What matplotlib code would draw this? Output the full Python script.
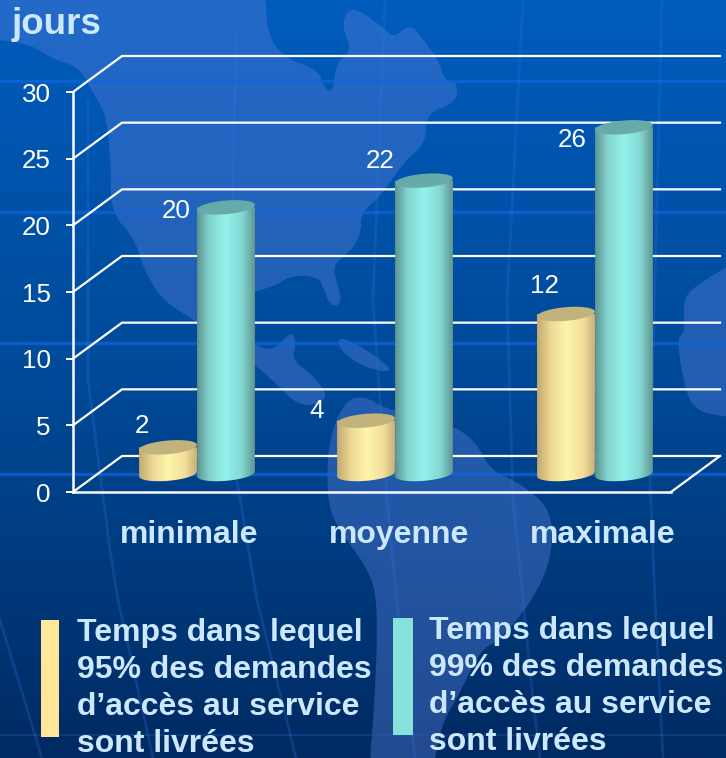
"""Delivery times (jours) as a 3D-looking cylinder chart on a dark blue map background."""
import matplotlib
matplotlib.use("Agg")
import matplotlib.pyplot as plt
import numpy as np
from matplotlib.colors import LinearSegmentedColormap
from matplotlib.patches import Polygon, Rectangle

plt.rcParams["font.family"] = ["Liberation Sans", "DejaVu Sans"]

# --- data ---
CATEGORIES = ["minimale", "moyenne", "maximale"]
DAYS_95 = [2, 4, 12]
DAYS_99 = [20, 22, 26]
Y_TICKS = [0, 5, 10, 15, 20, 25, 30]
LEGEND_95 = "Temps dans lequel\n95% des demandes\nd’accès au service\nsont livrées"
LEGEND_99 = "Temps dans lequel\n99% des demandes\nd’accès au service\nsont livrées"

# --- layout, all in reference pixels ---
W, H = 726, 758
Y0_PX, PX_PER_DAY = 492, 400 / 30
WALL_DX, WALL_DY = 49, 36
AXIS_X, FLOOR_RIGHT = 73, 671
GROUP_X = [197, 395, 595]
CAT_X = [189, 399, 603]
CYL_HALF = 29
CYL_BASE_PX = 474
ELL_B, TILT = 6.8, np.radians(5)
LABEL_XY_95 = [(142, 426), (317, 411), (544, 286)]
LABEL_XY_99 = [(176, 211), (380, 161), (572, 140)]

WHITE = "#ffffff"
TEXT = "#cce8ff"
YELLOW_CMAP = LinearSegmentedColormap.from_list(
    "y", [(0, "#c2a96f"), (0.22, "#ead692"), (0.5, "#fff6aa"), (0.8, "#f4de9a"), (1, "#c8b078")])
TEAL_CMAP = LinearSegmentedColormap.from_list(
    "t", [(0, "#5c9490"), (0.22, "#84d6d0"), (0.5, "#94f2ed"), (0.78, "#84d8d2"), (1, "#5f9692")])
YELLOW_TOP, TEAL_TOP = "#c2b27c", "#66abaa"

# background map shapes, traced by eye
NORTH_AMERICA = [
    (-20, -20), (266, -20), (266, 30), (282, 57), (319, 70), (324, 88), (333, 93), (336, 63), (352, 50),
    (343, 30), (345, 13), (356, 8), (384, 28), (394, 38), (410, 23), (426, 43), (440, 63), (444, 80),
    (458, 83), (456, 103), (426, 113), (426, 143), (403, 163), (380, 197), (361, 213), (361, 233),
    (352, 250), (338, 260), (333, 270), (343, 303), (331, 307), (324, 290), (319, 277), (292, 275),
    (273, 287), (240, 295), (240, 335), (259, 347), (275, 350), (292, 330), (296, 345), (292, 360),
    (315, 377), (330, 400), (300, 408), (273, 380), (230, 345), (194, 320), (162, 300), (144, 270),
    (134, 237), (111, 213), (111, 167), (106, 113), (93, 93), (79, 67), (55, 60), (28, 43), (-20, 38),
]
SOUTH_AMERICA = [
    (343, 403), (363, 395), (387, 410), (450, 423), (477, 443), (490, 470), (520, 483), (552, 510),
    (552, 557), (533, 600), (500, 640), (480, 650), (460, 693), (440, 727), (430, 790), (367, 790),
    (375, 700), (378, 600), (367, 567), (337, 527), (327, 500), (328, 443),
]
CUBA = [(337, 340), (345, 338), (370, 352), (392, 369), (385, 372), (362, 366), (342, 352)]
AFRICA = [
    (760, 250), (726, 267), (694, 287), (683, 300), (685, 333), (677, 337), (683, 380), (693, 410),
    (726, 417), (760, 420),
]
MERIDIANS = [
    [(88, 100), (88, 380), (110, 550), (118, 600), (153, 758)],
    [(236, 33), (232, 233), (237, 480), (257, 600), (296, 758)],
    [(385, 0), (373, 300), (387, 500), (400, 633), (415, 758)],
    [(523, 0), (507, 300), (513, 500), (533, 700), (540, 758)],
    [(662, 0), (650, 480), (655, 600), (663, 758)],
    [(0, 620), (42, 758)],
]
PARALLELS = [81, 212, 343, 474]


def px_to_value(y_px):
    return (Y0_PX - y_px) / PX_PER_DAY


def smooth(points, rounds=3):
    # corner cutting, the traced coasts are rounded in the reference
    pts = np.asarray(points, dtype=float)
    for _ in range(rounds):
        nxt = np.roll(pts, -1, axis=0)
        pts = np.column_stack([0.75 * pts + 0.25 * nxt, 0.25 * pts + 0.75 * nxt]).reshape(-1, 2)
    return pts


def draw_background(ax):
    grad = LinearSegmentedColormap.from_list(
        "bg", [(0, "#005cbd"), (0.5, "#004a98"), (1, "#002a62")])
    ax.imshow(np.linspace(0, 1, 256)[:, None], cmap=grad, aspect="auto",
              extent=(0, W, H, 0), zorder=0)
    for shape in (NORTH_AMERICA, SOUTH_AMERICA, CUBA, AFRICA):
        ax.add_patch(Polygon(smooth(shape), closed=True, facecolor="#5a80dc", edgecolor="none",
                             alpha=0.38, zorder=1))
    for y in PARALLELS:
        ax.plot([0, W], [y, y], color="#0f66dc", lw=2.4, alpha=0.7, zorder=2)
    ax.plot([0, W], [735, 735], color="#1f62c0", lw=1.5, alpha=0.3, zorder=2)
    for line in MERIDIANS:
        xs, ys = zip(*line)
        ax.plot(xs, ys, color="#2a78e0", lw=2, alpha=0.25, zorder=2)
    ax.set_xlim(0, W)
    ax.set_ylim(H, 0)
    ax.axis("off")


def ellipse_points(cx, cy_px, n=80):
    t = np.linspace(0, 2 * np.pi, n)
    x = cx + CYL_HALF * np.cos(t) * np.cos(TILT) - ELL_B * np.sin(t) * np.sin(TILT)
    y_px = cy_px - CYL_HALF * np.cos(t) * np.sin(TILT) - ELL_B * np.sin(t) * np.cos(TILT)
    return x, y_px


def draw_cylinder(ax, cx, value, cmap, top_color, z):
    top_px = CYL_BASE_PX - value * PX_PER_DAY
    # body outline: lower half of the base ellipse, upper half of the top one
    t = np.linspace(np.pi, 2 * np.pi, 40)
    bx = cx + CYL_HALF * np.cos(t) * np.cos(TILT) - ELL_B * np.sin(t) * np.sin(TILT)
    by = CYL_BASE_PX - CYL_HALF * np.cos(t) * np.sin(TILT) - ELL_B * np.sin(t) * np.cos(TILT)
    tx, ty = ellipse_points(cx, top_px)
    outline = np.column_stack([
        np.r_[bx, cx + CYL_HALF, cx - CYL_HALF],
        px_to_value(np.r_[by, top_px, top_px]),
    ])
    body = Polygon(outline, closed=True, transform=ax.transData, facecolor="none", edgecolor="none")
    ax.add_patch(body)
    im = ax.imshow(np.linspace(0, 1, 128)[None, :], cmap=cmap, aspect="auto", zorder=z,
                   extent=(cx - CYL_HALF, cx + CYL_HALF,
                           px_to_value(CYL_BASE_PX + ELL_B + 4), px_to_value(top_px - 2)))
    im.set_clip_path(body)
    ax.add_patch(Polygon(np.column_stack([tx, px_to_value(ty)]), closed=True,
                         facecolor=top_color, edgecolor="none", zorder=z + 0.1))


def main():
    fig = plt.figure(figsize=(W / 100, H / 100), dpi=100)
    bg = fig.add_axes([0, 0, 1, 1])
    draw_background(bg)

    ax = fig.add_axes([0, 0, 1, 1], facecolor="none")

    # walls and floor
    d_val = WALL_DY / PX_PER_DAY
    for tick in Y_TICKS:
        ax.plot([AXIS_X, AXIS_X + WALL_DX, W - 6],
                [tick, tick + d_val, tick + d_val], color=WHITE, lw=1.6, zorder=3,
                solid_joinstyle="miter")
    ax.plot([FLOOR_RIGHT, W - 6], [0, d_val], color=WHITE, lw=1.6, zorder=3)

    for gx, v95, v99 in zip(GROUP_X, DAYS_95, DAYS_99):
        draw_cylinder(ax, gx - CYL_HALF, v95, YELLOW_CMAP, YELLOW_TOP, 4)
        draw_cylinder(ax, gx + CYL_HALF, v99, TEAL_CMAP, TEAL_TOP, 5)

    # value labels
    for values, positions in ((DAYS_95, LABEL_XY_95), (DAYS_99, LABEL_XY_99)):
        for val, (x, y) in zip(values, positions):
            ax.text(x, px_to_value(y), str(val), color=WHITE, fontsize=18.7,
                    ha="center", va="center", zorder=6)

    # real axes, placed on the drawn box
    ax.set_xlim(0, W)
    ax.set_ylim(px_to_value(H), px_to_value(0))
    for side in ("top", "right"):
        ax.spines[side].set_visible(False)
    ax.spines["left"].set_position(("data", AXIS_X))
    ax.spines["left"].set_bounds(0, 30)
    ax.spines["bottom"].set_position(("data", 0))
    ax.spines["bottom"].set_bounds(AXIS_X, FLOOR_RIGHT)
    for side in ("left", "bottom"):
        ax.spines[side].set_color(WHITE)
        ax.spines[side].set_linewidth(1.8)
        ax.spines[side].set_zorder(3)
    ax.set_yticks(Y_TICKS)
    ax.tick_params(axis="y", colors=WHITE, labelsize=18.7, length=5, width=1.4, pad=11)
    ax.set_xticks(CAT_X)
    ax.set_xticklabels(CATEGORIES, fontsize=23, fontweight="bold", color=TEXT)
    ax.tick_params(axis="x", length=0, pad=20)

    # unit title and hand-made legend, in figure pixels on the background axes
    bg.text(12, 25, "jours", color=TEXT, fontsize=26.5, fontweight="bold", ha="left", va="center")
    bg.add_patch(Rectangle((41, 620), 18, 117, facecolor="#ffe699", edgecolor="none", zorder=3))
    bg.add_patch(Rectangle((393, 618), 20, 117, facecolor="#88e2dc", edgecolor="none", zorder=3))
    bg.text(77, 618, LEGEND_95, color=TEXT, fontsize=23, fontweight="bold", ha="left", va="top",
            linespacing=1.31, zorder=4, clip_on=True)
    bg.text(429, 616, LEGEND_99, color=TEXT, fontsize=23, fontweight="bold", ha="left", va="top",
            linespacing=1.31, zorder=4, clip_on=True)

    fig.savefig("out.png", dpi=100)


if __name__ == "__main__":
    main()
